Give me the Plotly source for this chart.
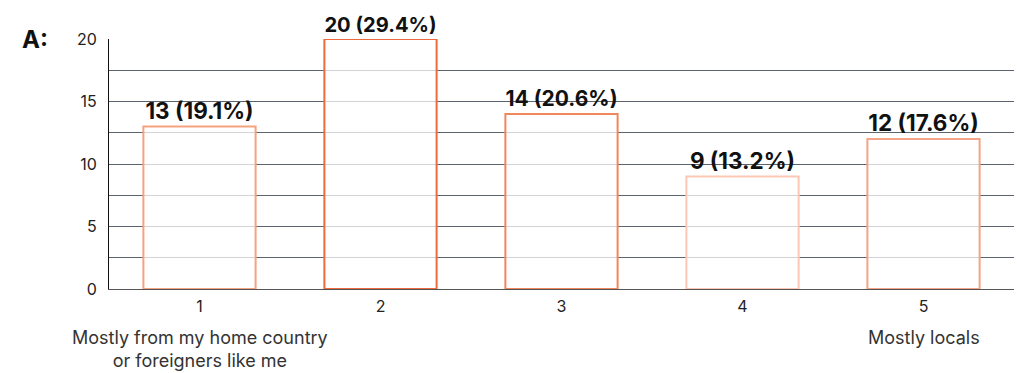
import plotly.graph_objects as go

# Survey responses on a 1-5 scale
categories = ["1", "2", "3", "4", "5"]
counts = [13, 20, 14, 9, 12]
outline_colors = ["#f5a27f", "#ee6a3d", "#f0875c", "#fcc8b3", "#f3a387"]
y_tick_values = [0, 5, 10, 15, 20]
grid_values = [2.5, 5, 7.5, 10, 12.5, 15, 17.5]
left_caption = "Mostly from my home country<br>or foreigners like me"
right_caption = "Mostly locals"
panel_tag = "A:"

total = sum(counts)
labels = [f"{c} ({c / total * 100:.1f}%)" for c in counts]

FONT = "Inter, Roboto, sans-serif"

fig = go.Figure(
    go.Bar(
        x=categories,
        y=counts,
        text=labels,
        textposition="outside",
        cliponaxis=False,
        textfont=dict(family=FONT, size=22.5, color="#111111", weight="bold"),
        marker=dict(
            color="rgba(255,255,255,0.72)",
            line=dict(color=outline_colors, width=2),
        ),
        width=0.62,
        hoverinfo="skip",
    )
)

fig.update_layout(
    width=1017,
    height=373,
    margin=dict(l=109, r=3, t=39, b=84),
    paper_bgcolor="white",
    plot_bgcolor="white",
    showlegend=False,
    font=dict(family=FONT, size=16, color="#222222"),
)

fig.update_xaxes(
    type="category",
    range=[-0.5, 4.5],
    showline=True,
    linecolor="#555555",
    linewidth=1,
    showgrid=False,
    ticks="",
    ticklabelstandoff=3,
    tickfont=dict(family=FONT, size=16, color="#222222"),
)

fig.update_yaxes(
    range=[0, 20],
    tickvals=y_tick_values,
    showgrid=False,
    zeroline=False,
    showline=True,
    linecolor="#111111",
    linewidth=1,
    ticks="",
    ticklabelstandoff=8,
    tickfont=dict(family=FONT, size=16, color="#222222"),
    minor=dict(tickvals=grid_values, showgrid=True, gridcolor="#5b636e", gridwidth=1),
)

fig.add_annotation(
    text=panel_tag, xref="paper", yref="paper", x=-0.098, y=1.0,
    xanchor="left", yanchor="middle", showarrow=False,
    font=dict(family=FONT, size=24, color="#111111", weight="bold"),
)
fig.add_annotation(
    text=left_caption, xref="x", yref="paper", x=0, y=-0.145,
    xanchor="center", yanchor="top", showarrow=False, align="center",
    font=dict(family=FONT, size=18, color="#333333"),
)
fig.add_annotation(
    text=right_caption, xref="x", yref="paper", x=4, y=-0.145,
    xanchor="center", yanchor="top", showarrow=False, align="center",
    font=dict(family=FONT, size=18, color="#333333"),
)

fig.write_html("out.html")
